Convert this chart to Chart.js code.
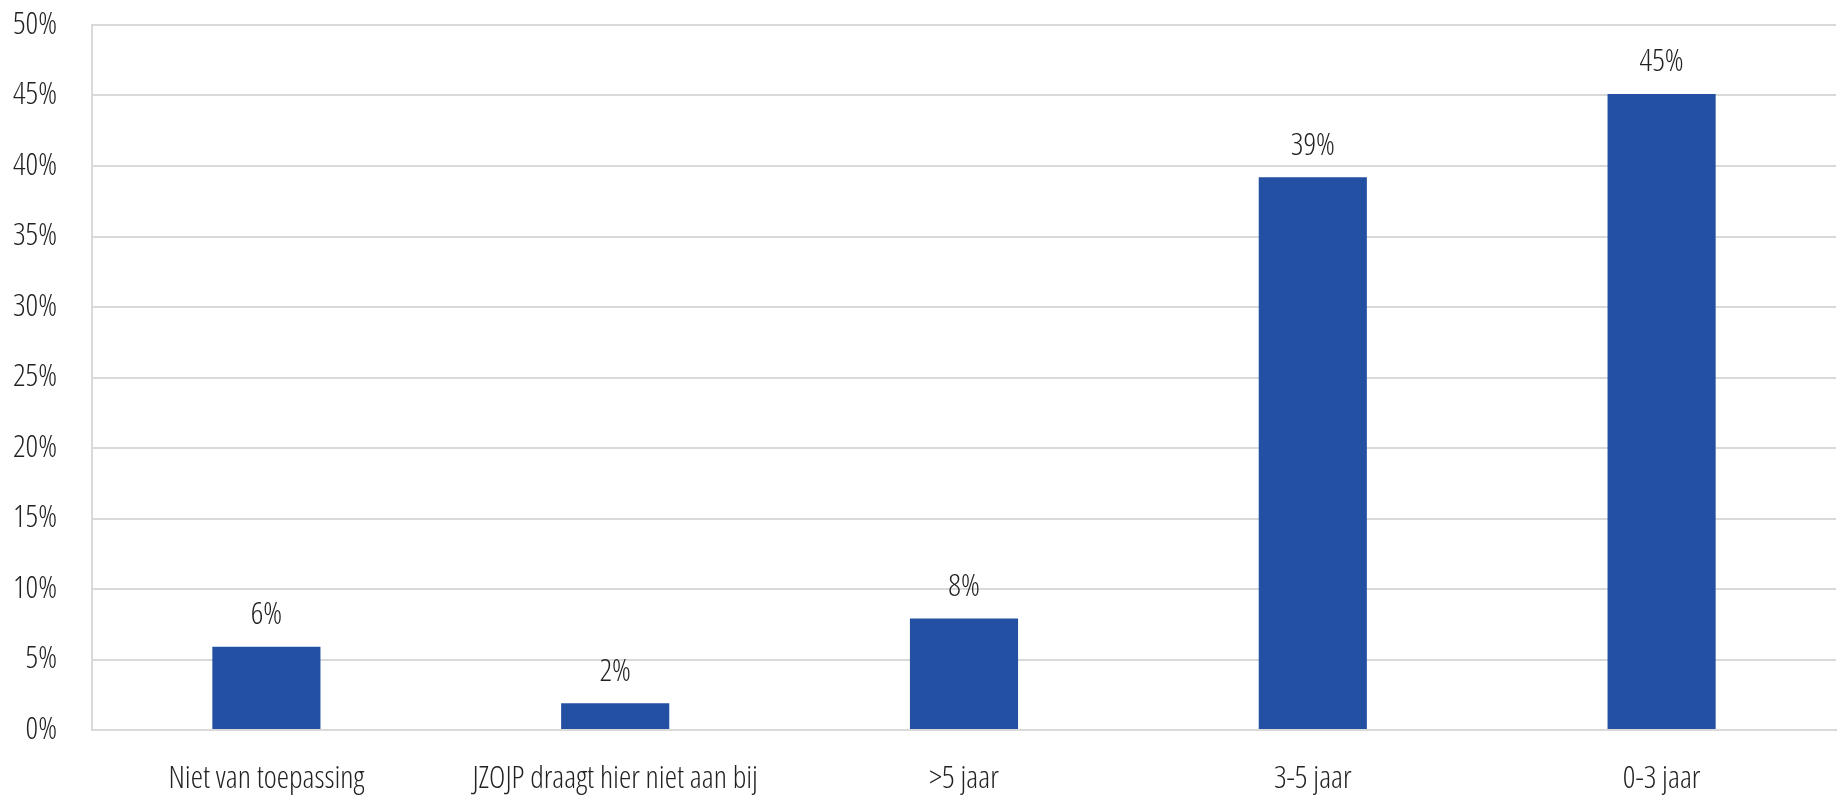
<!DOCTYPE html>
<html>
<head>
<meta charset="utf-8">
<script src="https://cdn.jsdelivr.net/npm/chart.js@4.4.1/dist/chart.umd.min.js"></script>
<style>
    html, body { margin: 0; padding: 0; background: #ffffff; }
    #wrap { width: 1845px; height: 796px; position: relative; }
</style>
</head>
<body>
<div id="wrap"><canvas id="barChart"></canvas></div>
<script>
// data
const categories = ["Niet van toepassing", "JZOJP draagt hier niet aan bij", ">5 jaar", "3-5 jaar", "0-3 jaar"];
const shares = [5.9, 1.9, 7.9, 39.2, 45.1];
const yTicks = [0, 5, 10, 15, 20, 25, 30, 35, 40, 45, 50];

const fontFamily = "'Open Sans', 'Liberation Sans Narrow', sans-serif";
const fontSize = 31;
// stretch goes in with the weight, Chart.js only checks the style field
const fontWeight = "300 condensed";
const textColor = "#222222";

// simple value labels above the bars
const valueLabels = {
    id: "valueLabels",
    afterDatasetsDraw(chart) {
        const ctx = chart.ctx;
        const meta = chart.getDatasetMeta(0);
        ctx.save();
        ctx.font = fontWeight + " " + fontSize + "px " + fontFamily;
        ctx.fillStyle = textColor;
        ctx.textAlign = "center";
        ctx.textBaseline = "bottom";
        meta.data.forEach((bar, i) => {
            ctx.fillText(Math.round(shares[i]) + "%", bar.x, bar.y - 16);
        });
        ctx.restore();
    }
};

const ctx = document.getElementById("barChart").getContext("2d");
new Chart(ctx, {
    type: "bar",
    data: {
        labels: categories,
        datasets: [{
            data: shares,
            backgroundColor: "#2350a2",
            borderWidth: 0,
            categoryPercentage: 1,
            barPercentage: 0.31
        }]
    },
    options: {
        responsive: true,
        maintainAspectRatio: false,
        animation: false,
        layout: { padding: { top: 25, right: 9, left: 0, bottom: 0 } },
        plugins: {
            legend: { display: false },
            tooltip: { enabled: false }
        },
        scales: {
            x: {
                grid: { display: false, drawTicks: false },
                border: { color: "#d9d9d9", width: 2 },
                ticks: {
                    color: textColor,
                    padding: 31,
                    maxRotation: 0,
                    autoSkip: false,
                    font: { family: fontFamily, size: fontSize, weight: fontWeight }
                },
                afterFit(scale) {
                    scale.height = 66;
                    scale.paddingTop = 0;
                    scale.paddingBottom = 0;
                }
            },
            y: {
                min: 0,
                max: 50,
                afterBuildTicks(scale) { scale.ticks = yTicks.map(v => ({ value: v })); },
                grid: { color: "#d9d9d9", lineWidth: 2, drawTicks: false },
                border: { color: "#d9d9d9", width: 2 },
                ticks: {
                    color: textColor,
                    padding: 35,
                    font: { family: fontFamily, size: fontSize, weight: fontWeight },
                    callback: v => v + "%"
                },
                afterFit(scale) {
                    scale.width = 92;
                    scale.paddingTop = 0;
                    scale.paddingBottom = 0;
                }
            }
        }
    },
    plugins: [valueLabels]
});
</script>
</body>
</html>
